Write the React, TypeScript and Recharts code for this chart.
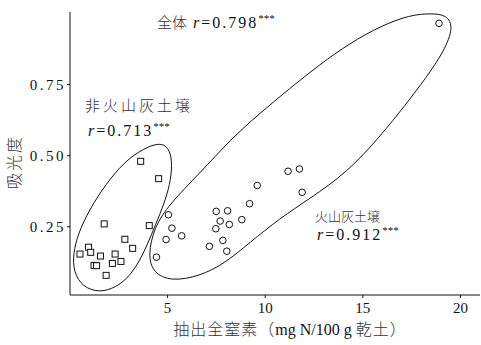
import { ComposedChart, Line, Scatter, XAxis, YAxis } from "recharts";

// 非火山灰土壌 (squares)
const nonVolcanicX = [3.62, 4.54, 1.75, 4.06, 2.81, 3.21, 0.95, 0.51, 1.06, 1.56, 2.31, 2.61, 2.17, 1.23, 1.36, 1.85];
const nonVolcanicY = [0.48, 0.419, 0.26, 0.254, 0.206, 0.174, 0.178, 0.154, 0.16, 0.147, 0.154, 0.128, 0.121, 0.114, 0.113, 0.079];

// 火山灰土壌 (circles)
const volcanicX = [5.04, 5.22, 4.92, 5.72, 4.43, 7.49, 8.07, 7.69, 8.16, 7.47, 8.8, 9.2, 9.59, 11.17, 11.75, 11.89, 7.14, 7.83, 8.03, 18.9];
const volcanicY = [0.292, 0.245, 0.205, 0.218, 0.143, 0.304, 0.306, 0.27, 0.258, 0.243, 0.275, 0.331, 0.395, 0.445, 0.453, 0.371, 0.181, 0.202, 0.164, 0.965];

// hand drawn enclosures, in data units
const nonVolcanicLoopX = [4.06, 4.73, 5.12, 5.24, 5.12, 4.8, 4.38, 3.96, 3.55, 2.93, 2.11, 1.28, 0.5, 0.14, 0.2, 0.52, 1.2, 2.08, 3.0];
const nonVolcanicLoopY = [0.535, 0.545, 0.52, 0.468, 0.398, 0.327, 0.257, 0.187, 0.127, 0.065, 0.028, 0.02, 0.048, 0.106, 0.172, 0.245, 0.335, 0.422, 0.492];
const volcanicLoopX = [4.0, 4.3, 5.09, 6.63, 8.27, 9.71, 11.25, 12.8, 14.33, 15.88, 17.42, 18.5, 19.3, 19.65, 19.15, 18.25, 17.2, 15.88, 14.18, 12.28, 10.74, 9.2, 7.91, 6.63, 5.19, 4.25];
const volcanicLoopY = [0.151, 0.246, 0.33, 0.437, 0.56, 0.648, 0.736, 0.821, 0.895, 0.955, 0.995, 1.0, 0.995, 0.951, 0.866, 0.775, 0.68, 0.567, 0.44, 0.349, 0.279, 0.194, 0.12, 0.076, 0.058, 0.088];

const xTicks = [5, 10, 15, 20];
const yTicks = [0.25, 0.5, 0.75];

const zip = (xs: number[], ys: number[]) => xs.map((x, i) => ({ x, y: ys[i] }));

const squares = zip(nonVolcanicX, nonVolcanicY);
const circles = zip(volcanicX, volcanicY);
const loopA = zip(nonVolcanicLoopX, nonVolcanicLoopY);
const loopB = zip(volcanicLoopX, volcanicLoopY);

const serif = "'Liberation Serif', 'DejaVu Serif', serif";
const cjk = "'Noto Sans CJK JP', sans-serif";

const Square = (props: any) => (
  <rect x={props.cx - 3} y={props.cy - 3} width={6} height={6} fill="#fff" stroke="#111" strokeWidth={1} />
);
const Circle = (props: any) => (
  <circle cx={props.cx} cy={props.cy} r={3.3} fill="#fff" stroke="#111" strokeWidth={1} />
);

function RText({ x, y, value, stars = "***" }: { x: number; y: number; value: string; stars?: string }) {
  return (
    <text x={x} y={y} fontFamily={serif} fontSize={16} fill="#111" letterSpacing={2}>
      <tspan fontStyle="italic">r</tspan>
      <tspan>={value}</tspan>
      <tspan fontSize={11} dy={-6} letterSpacing={0}>{stars}</tspan>
    </text>
  );
}

export default function App() {
  return (
    <div style={{ position: "relative", width: 481, height: 345, background: "#fff" }}>
      <style>{"body{margin:0}"}</style>
      <ComposedChart width={481} height={345} margin={{ top: 12, right: 1, bottom: 0, left: 0 }}>
        <XAxis
          type="number"
          dataKey="x"
          domain={[0, 21]}
          ticks={xTicks}
          height={50}
          tickSize={3}
          tickMargin={4}
          stroke="#111"
          tick={{ fill: "#111", fontFamily: serif, fontSize: 15 }}
        />
        <YAxis
          type="number"
          dataKey="y"
          domain={[0.01, 1.005]}
          ticks={yTicks}
          width={70}
          tickSize={3}
          tickMargin={1}
          stroke="#111"
          tickFormatter={(v: number) => v.toFixed(2)}
          tick={{ fill: "#111", fontFamily: serif, fontSize: 15, letterSpacing: 2.5 }}
        />
        <Line data={loopA} dataKey="y" type="basisClosed" stroke="#111" strokeWidth={1} dot={false} isAnimationActive={false} />
        <Line data={loopB} dataKey="y" type="basisClosed" stroke="#111" strokeWidth={1} dot={false} isAnimationActive={false} />
        <Scatter data={squares} dataKey="y" shape={Square} isAnimationActive={false} />
        <Scatter data={circles} dataKey="y" shape={Circle} isAnimationActive={false} />
      </ComposedChart>
      <svg width={481} height={345} style={{ position: "absolute", left: 0, top: 0, pointerEvents: "none" }}>
        <text x={157} y={28} fontFamily={cjk} fontWeight={300} fontSize={15} fill="#333">全体</text>
        <RText x={193} y={28} value="0.798" />
        <text x={85} y={111} fontFamily={cjk} fontWeight={300} fontSize={15} fill="#333" letterSpacing={3}>非火山灰土壌</text>
        <RText x={88} y={136} value="0.713" />
        <text x={315} y={221} fontFamily={cjk} fontWeight={300} fontSize={13} fill="#333">火山灰土壌</text>
        <RText x={317} y={240} value="0.912" />
        <text x={0} y={0} transform="translate(20,162) rotate(-90)" textAnchor="middle" fontFamily={cjk} fontWeight={300} fontSize={16} fill="#333" letterSpacing={2}>吸光度</text>
        <text x={290} y={335} textAnchor="middle" fill="#333" fontSize={16}>
          <tspan fontFamily={cjk} fontWeight={300} letterSpacing={1}>抽出全窒素（</tspan>
          <tspan fontFamily={serif} fill="#111">mg N/100 g </tspan>
          <tspan fontFamily={cjk} fontWeight={300} letterSpacing={1}>乾土）</tspan>
        </text>
      </svg>
    </div>
  );
}
